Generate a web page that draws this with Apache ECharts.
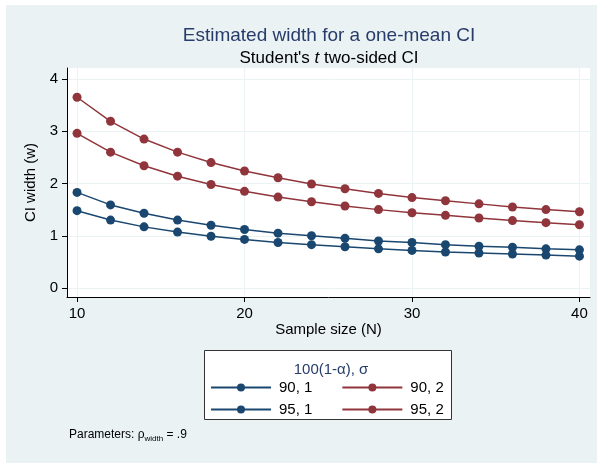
<!DOCTYPE html>
<html>
<head>
<meta charset="utf-8">
<script src="https://cdn.jsdelivr.net/npm/echarts@6/dist/echarts.min.js"></script>
<style>
html,body{margin:0;padding:0;background:#fff;}
#chart{width:597px;height:463px;}
</style>
</head>
<body>
<div id="chart"></div>
<script>
// ---- data ----
var sampleSizes = [10,12,14,16,18,20,22,24,26,28,30,32,34,36,38,40];
var w90s1 = [1.48,1.30,1.17,1.07,0.99,0.93,0.87,0.83,0.79,0.75,0.72,0.69,0.67,0.65,0.63,0.61];
var w90s2 = [2.96,2.60,2.34,2.14,1.98,1.85,1.74,1.65,1.57,1.50,1.44,1.39,1.34,1.29,1.25,1.21];
var w95s1 = [1.83,1.59,1.43,1.30,1.20,1.12,1.05,1.00,0.95,0.90,0.87,0.83,0.80,0.78,0.75,0.73];
var w95s2 = [3.65,3.19,2.85,2.60,2.40,2.24,2.11,1.99,1.90,1.81,1.73,1.67,1.61,1.55,1.50,1.46];
var seriesNames = ["90, 1","90, 2","95, 1","95, 2"];
var xTicks = [10,20,30,40];
var yTicks = [0,1,2,3,4];

var blue = '#1A476F', red = '#90353B';
var font = 'Liberation Sans, Arial, Helvetica, sans-serif';

function pairs(vals){ return sampleSizes.map(function(n,i){ return [n, vals[i]]; }); }
function mk(name, vals, color){
  return {
    name: name, type: 'line', data: pairs(vals),
    symbol: 'circle', symbolSize: 9,
    lineStyle: {color: color, width: 1.5},
    itemStyle: {color: color},
    emphasis: {disabled: true}, animation: false
  };
}

var chart = echarts.init(document.getElementById('chart'), null, {renderer: 'canvas'});
chart.setOption({
  backgroundColor: '#fff',
  animation: false,
  graphic: [
    {type: 'rect', z: -10, shape: {x: 6, y: 5, width: 591, height: 458}, style: {fill: '#EAF2F3'}},
    {type: 'rect', z: -5, shape: {x: 204.5, y: 350.5, width: 247, height: 69}, style: {fill: '#fff', stroke: '#333', lineWidth: 1}},
    {type: 'text', left: 69, top: 429, style: {
      text: 'Parameters: {g|ρ}{s|width}{g| = .9}', font: '12px ' + font, fill: '#000',
      rich: {g: {fontSize: 12, fontFamily: font, fill: '#000', lineHeight: 16, verticalAlign: 'middle'},
             s: {fontSize: 8, fontFamily: font, fill: '#000', lineHeight: 16, verticalAlign: 'bottom', padding: [4,0,0,0]}}
    }}
  ],
  title: [
    {text: 'Estimated width for a one-mean CI', left: 324, top: 21, textAlign: 'center',
     textStyle: {fontFamily: font, fontSize: 19, fontWeight: 'normal', color: '#283C6B'}},
    {text: "Student's {i|t} two-sided CI", left: 324, top: 45, textAlign: 'center',
     textStyle: {fontFamily: font, fontSize: 17, fontWeight: 'normal', color: '#000',
       rich: {i: {fontFamily: font, fontSize: 17, fontStyle: 'italic', color: '#000'}}}},
    {text: '100(1-α), σ', left: 326, top: 357, textAlign: 'center',
     textStyle: {fontFamily: font, fontSize: 15, fontWeight: 'normal', color: '#283C6B'}}
  ],
  legend: [
    {data: [seriesNames[0], seriesNames[1]], left: 210, top: 380, padding: 0, itemGap: 29,
     itemWidth: 60, itemHeight: 10, textStyle: {fontFamily: font, fontSize: 15, color: '#000', padding: [0,0,0,3]}},
    {data: [seriesNames[2], seriesNames[3]], left: 210, top: 402, padding: 0, itemGap: 29,
     itemWidth: 60, itemHeight: 10, textStyle: {fontFamily: font, fontSize: 15, color: '#000', padding: [0,0,0,3]}}
  ],
  grid: {left: 67, top: 68, right: 7, bottom: 166, show: true, backgroundColor: '#fff', borderWidth: 0},
  xAxis: {
    type: 'value', min: 9.4, max: 40.63,
    name: 'Sample size (N)', nameLocation: 'middle', nameGap: 23,
    nameTextStyle: {fontFamily: font, fontSize: 15, color: '#000'},
    axisLine: {show: true, onZero: false, lineStyle: {color: '#000', width: 1}},
    axisTick: {show: true, length: 5, lineStyle: {color: '#000'}, customValues: xTicks},
    axisLabel: {fontFamily: font, fontSize: 15, color: '#000', margin: 9, customValues: xTicks},
    splitLine: {show: true, lineStyle: {color: '#EAF2F3', width: 1}, customValues: xTicks}
  },
  yAxis: {
    type: 'value', min: -0.172, max: 4.21,
    name: 'CI width (w)', nameLocation: 'middle', nameGap: 29, nameRotate: 90,
    nameTextStyle: {fontFamily: font, fontSize: 15, color: '#000'},
    axisLine: {show: true, onZero: false, lineStyle: {color: '#000', width: 1}},
    axisTick: {show: true, length: 5, lineStyle: {color: '#000'}, customValues: yTicks},
    axisLabel: {fontFamily: font, fontSize: 15, color: '#000', margin: 9, customValues: yTicks},
    splitLine: {show: true, lineStyle: {color: '#EAF2F3', width: 1}, customValues: yTicks}
  },
  series: [
    mk(seriesNames[0], w90s1, blue),
    mk(seriesNames[1], w90s2, red),
    mk(seriesNames[2], w95s1, blue),
    mk(seriesNames[3], w95s2, red)
  ]
});
</script>
</body>
</html>
